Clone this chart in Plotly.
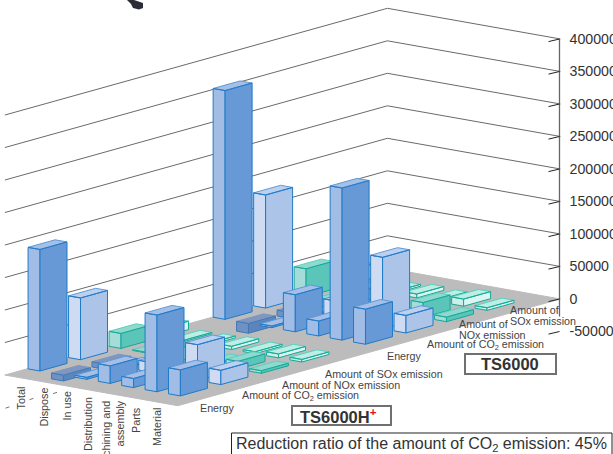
import plotly.graph_objects as go

W, H = 613, 454

# ---- data ----
categories = ["Total", "Dispose", "In use", "Distribution", "Machining and<br>assembly", "Parts", "Material"]
row_names = ["TS6000H+ Energy", "TS6000H+ CO2", "TS6000H+ NOx", "TS6000H+ SOx",
             "TS6000 Energy", "TS6000 CO2", "TS6000 NOx", "TS6000 SOx"]
h_energy = [187000, -9000, 3000, 27000, 14000, 118000, 40000]
h_co2 = [95000, -8000, 1500, 15000, 7000, 55000, 22000]
h_nox = [23000, 1000, 1500, 20000, 2000, 12000, 4000]
h_sox = [13000, 2000, 3000, 5000, 3000, 6000, 4000]
t_energy = [352000, -15000, 2500, 57000, 23000, 234000, 54000]
t_co2 = [174000, -9000, 2000, 30000, 11000, 110000, 27000]
t_nox = [43000, 2000, 2000, 8000, 4000, 23000, 7000]
t_sox = [22000, 2000, 3000, 6000, 4000, 11000, 4000]
rows = [h_energy, h_co2, h_nox, h_sox, t_energy, t_co2, t_nox, t_sox]
row_pos = [0, 1, 2, 3, 4.57, 5.57, 6.57, 7.57]
tick_values = [-50000, 0, 50000, 100000, 150000, 200000, 250000, 300000, 350000, 400000]
tick_labels = [str(v) for v in tick_values]

# ---- oblique view ----
PX_PER_VALUE = 0.00065
Y_ZERO_PX = 299
X0, Y0 = 40, 371
CAT_DX, CAT_DY = 23.4, 4.15
ROW_DX, ROW_DY = 40.5, -11.3
BAR_DU, BAR_DV = 0.51, 0.667
FLOOR_U = (-0.54, 6.85)
FLOOR_V = (-0.555, 8.89)
AXIS_X = 559.5
# faint stray marks above the first category labels: centre x and y in pixels
stray_x = [7.5, 31.5, 55]
stray_y = [407.5, 399, 393]


def project(u, v, z=0):
    sx = X0 + u * CAT_DX + v * ROW_DX
    sy = Y0 + u * CAT_DY + v * ROW_DY
    return sx, z - (sy - Y_ZERO_PX) / PX_PER_VALUE


def poly(points, fill, edge, width=1):
    xs, ys = zip(*[project(*p) for p in points])
    return go.Scatter(x=list(xs) + [xs[0]], y=list(ys) + [ys[0]], mode="lines", fill="toself",
                      fillcolor=fill, line=dict(color=edge, width=width),
                      hoverinfo="skip", showlegend=False)


def polyline(points, color, width=1):
    xs, ys = zip(*points)
    return go.Scatter(x=list(xs), y=list(ys), mode="lines", line=dict(color=color, width=width),
                      hoverinfo="skip", showlegend=False)


styles = [
    dict(left="#a2bde5", right="#6699d5", top="#a6bfe6", edge="#1f7ac8", top_edge="#5f9ad8"),
    dict(left="#cfdbf3", right="#abc4e8", top="#bdd0ef", edge="#1f7ac8", top_edge="#5f9ad8"),
    dict(left="#a6dcd8", right="#5cc5b9", top="#8fd9cd", edge="#14a898", top_edge="#5ccfc0"),
    dict(left="#c9f1e9", right="#d9f6f0", top="#bdeee3", edge="#14a898", top_edge="#5ccfc0"),
]
neg_style = dict(left="#6f91c4", right="#5a86bd", top="#7f96bf", edge="#3f78b8", top_edge="#7f96bf")

fig = go.Figure()

# floor
fig.add_trace(poly([(FLOOR_U[0], FLOOR_V[0]), (FLOOR_U[1], FLOOR_V[0]),
                    (FLOOR_U[1], FLOOR_V[1]), (FLOOR_U[0], FLOOR_V[1])], "#bcbcbc", "#bcbcbc"))

# walls' grid lines
for t in tick_values:
    if t <= 0:
        continue
    pts = [project(FLOOR_U[0], FLOOR_V[0], t), project(FLOOR_U[0], FLOOR_V[1], t),
           project(FLOOR_U[1], FLOOR_V[1], t)]
    fig.add_trace(polyline(pts, "#6a6a6a", 1))

# bars, back to front
for j in reversed(range(len(rows))):
    for i in range(len(categories)):
        val = rows[j][i]
        u, v = i, row_pos[j]
        zt, zb = max(val, 0), min(val, 0)
        s = neg_style if val < 0 else styles[j % 4]
        l, r = u - BAR_DU, v + BAR_DV
        fig.add_trace(poly([(l, v, zb), (u, v, zb), (u, v, zt), (l, v, zt)], s["left"], s["edge"]))
        fig.add_trace(poly([(u, v, zb), (u, r, zb), (u, r, zt), (u, v, zt)], s["right"], s["edge"]))
        fig.add_trace(poly([(l, v, zt), (u, v, zt), (u, r, zt), (l, r, zt)], s["top"], s["top_edge"]))
        fig.add_trace(polyline([project(l, v, zt), project(u, v, zt), project(u, r, zt)], s["edge"]))

# value axis line and slanted ticks
fig.add_trace(polyline([(AXIS_X, 400000), (AXIS_X, -27000)], "#666666", 1.3))
for t in tick_values:
    fig.add_trace(polyline([(AXIS_X - 11, t - 4000), (AXIS_X, t)], "#222222", 1))
for sx, sy in zip(stray_x, stray_y):
    yv = (Y_ZERO_PX - sy) / PX_PER_VALUE
    fig.add_trace(polyline([(sx - 2, yv - 1000), (sx + 2, yv + 1000)], "#777777", 1))

TXT = "#444444"
FONT = "Liberation Sans, Arial, sans-serif"


def label(text, px, py, size=10.7, xanchor="center", yanchor="middle", angle=0, color=TXT, align="center"):
    fig.add_annotation(text=text, x=px / W, y=1 - py / H, xref="paper", yref="paper", showarrow=False,
                       xanchor=xanchor, yanchor=yanchor, textangle=angle, align=align,
                       font=dict(family=FONT, size=size, color=color), borderpad=0, borderwidth=0)


cat_label_x = [20, 43, 66, 88, 112.5, 136, 157]
cat_label_top = [387, 388, 392, 397, 400, 407, 408]
for name, px, py in zip(categories, cat_label_x, cat_label_top):
    label(name, px, py, yanchor="top", angle=-90, size=10.8, align="right")

label("Energy", 218, 408)
label("Amount of CO<sub>2</sub> emission", 300, 396)
label("Amount of NOx emission", 341, 385)
label("Amount of SOx emission", 384, 374)
label("Energy", 404, 356)
label("Amount of CO<sub>2</sub> emission", 485, 345)
label("Amount of", 459, 324, xanchor="left", align="left")
label("NOx emission", 459, 335, xanchor="left", align="left")
label("Amount of", 510, 310, xanchor="left", align="left")
label("SOx emission", 510, 321, xanchor="left", align="left")


def rect(x0, y0, x1, y1, color, width):
    fig.add_shape(type="rect", xref="paper", yref="paper", x0=x0 / W, x1=x1 / W, y0=1 - y0 / H, y1=1 - y1 / H,
                  line=dict(color=color, width=width), fillcolor="white", layer="above")


rect(465, 354, 556, 374, "#707070", 2)
rect(292, 406, 391, 425, "#707070", 2)
rect(231.5, 433, 612, 455, "#222222", 1)

label("<b>TS6000</b>", 509.5, 364, size=16.5, color="#333333")
label('<b>TS6000H</b><span style="color:#e01020"><b><sup>+</sup></b></span>', 339, 415.5, size=16.5, color="#333333")
label("Reduction ratio of the amount of CO<sub>2</sub> emission: 45%", 421, 444, size=16, color="#333333")

# cropped pictogram fragment at the top edge
fig.add_shape(type="path", xref="paper", yref="paper", layer="above",
              path=f"M {127/W} 1 L {134/W} 1 L {143/W} {1-3/H} L {143/W} {1-8/H} L {139/W} {1-9.5/H} "
                   f"L {133/W} {1-8/H} L {131/W} {1-4/H} Z",
              fillcolor="#2c2c38", line=dict(width=0))

fig.update_layout(
    width=W, height=H, autosize=False, margin=dict(l=0, r=0, t=0, b=0, autoexpand=False),
    plot_bgcolor="white", paper_bgcolor="white", showlegend=False,
    font=dict(family=FONT, color="#333333"),
    xaxis=dict(range=[0, W], visible=False, domain=[0, 1]),
    yaxis=dict(range=[(Y_ZERO_PX - H) / PX_PER_VALUE, Y_ZERO_PX / PX_PER_VALUE], side="right", anchor="free",
               position=AXIS_X / W, tickvals=tick_values, ticktext=tick_labels, ticks="", showgrid=False,
               zeroline=False, showline=False, ticklabelstandoff=9, ticklabeloverflow="allow",
               tickfont=dict(family=FONT, size=14.2, color="#333333")),
)
fig.write_html("out.html", config=dict(displayModeBar=False),
               post_script="document.body.style.margin='0';document.body.style.overflow='hidden';")
